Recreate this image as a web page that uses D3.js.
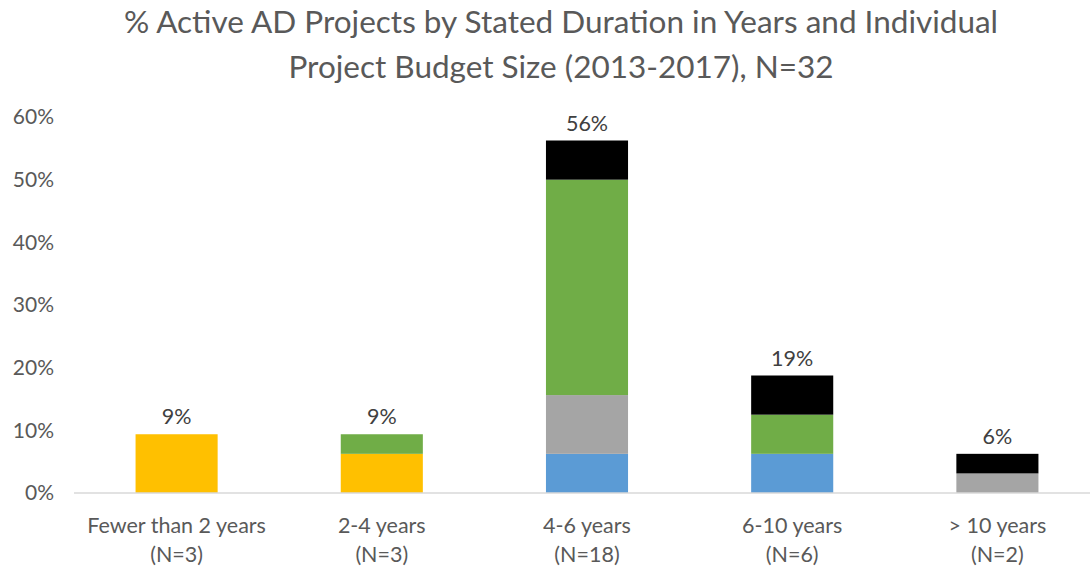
<!DOCTYPE html>
<html>
<head>
<meta charset="utf-8">
<script src="https://cdn.jsdelivr.net/npm/d3@7"></script>
<style>
  body { margin: 0; background: #fff; }
  svg { font-family: Lato, "Open Sans", sans-serif; }
</style>
</head>
<body>
<div id="chart"></div>
<script>
// categories and their sample sizes
const categories = ['Fewer than 2 years', '2-4 years', '4-6 years', '6-10 years', '> 10 years'];
const sampleLabels = ['(N=3)', '(N=3)', '(N=18)', '(N=6)', '(N=2)'];

// series values, % of all 32 projects (bottom to top)
const yellowVals = [9.375, 6.25, 0, 0, 0];
const blueVals = [0, 0, 6.25, 6.25, 0];
const grayVals = [0, 0, 9.375, 0, 3.125];
const greenVals = [0, 3.125, 34.375, 6.25, 0];
const blackVals = [0, 0, 6.25, 6.25, 3.125];

const yTicks = [0, 10, 20, 30, 40, 50, 60];
const titleLines = [
  '% Active AD Projects by Stated Duration in Years and Individual',
  'Project Budget Size (2013-2017), N=32'
];

const seriesKeys = ['yellow', 'blue', 'gray', 'green', 'black'];
const colors = { yellow: '#FFC000', blue: '#5B9BD5', gray: '#A5A5A5', green: '#70AD47', black: '#000000' };

const width = 1090;
const height = 570;

const table = categories.map((c, i) => ({
  cat: c,
  yellow: yellowVals[i],
  blue: blueVals[i],
  gray: grayVals[i],
  green: greenVals[i],
  black: blackVals[i]
}));

const svg = d3.select('#chart')
  .append('svg')
  .attr('width', width)
  .attr('height', height);

// title
svg.append('g')
  .selectAll('text')
  .data(titleLines)
  .enter()
  .append('text')
  .attr('x', 561)
  .attr('y', (d, i) => 33 + i * 45)
  .attr('text-anchor', 'middle')
  .style('font-size', '31.5px')
  .style('fill', '#595959')
  .text((d) => d);

const xScale = d3.scaleBand()
  .domain(categories)
  .range([74, 1100])
  .paddingInner(0.6)
  .paddingOuter(0.3);

const yScale = d3.scaleLinear()
  .domain([0, 60])
  .range([493, 117]);

// y axis labels (no line, no grid)
const yAxis = d3.axisLeft(yScale)
  .tickValues(yTicks)
  .tickSize(0)
  .tickPadding(0)
  .tickFormat((d) => d + '%');

const yAxisG = svg.append('g')
  .attr('transform', 'translate(54,0)')
  .call(yAxis);
yAxisG.select('.domain').remove();
yAxisG.selectAll('text')
  .style('font-size', '21px')
  .style('font-family', 'Lato, "Open Sans", sans-serif')
  .style('fill', '#595959');

// stacked bars
const stack = d3.stack().keys(seriesKeys);
const layers = stack(table);

svg.append('g')
  .selectAll('g')
  .data(layers)
  .enter()
  .append('g')
  .attr('fill', (d) => colors[d.key])
  .selectAll('rect')
  .data((d) => d)
  .enter()
  .append('rect')
  .attr('x', (d) => xScale(d.data.cat))
  .attr('width', xScale.bandwidth())
  .attr('y', (d) => yScale(d[1]))
  .attr('height', (d) => yScale(d[0]) - yScale(d[1]));

// x axis
const xAxis = d3.axisBottom(xScale).tickSize(0).tickFormat('');
const xAxisG = svg.append('g')
  .attr('transform', 'translate(0,' + yScale(0) + ')')
  .call(xAxis);
xAxisG.select('.domain')
  .attr('stroke', '#D9D9D9')
  .attr('stroke-width', 1.5)
  .attr('d', 'M74,0H1090');

// category labels
const catLabels = svg.append('g')
  .selectAll('text')
  .data(categories)
  .enter()
  .append('text')
  .attr('x', (d) => xScale(d) + xScale.bandwidth() / 2)
  .attr('text-anchor', 'middle')
  .style('font-size', '21.5px')
  .style('fill', '#595959');
catLabels.append('tspan')
  .attr('x', (d) => xScale(d) + xScale.bandwidth() / 2)
  .attr('y', 533)
  .text((d) => d);
catLabels.append('tspan')
  .attr('x', (d) => xScale(d) + xScale.bandwidth() / 2)
  .attr('y', 562)
  .text((d, i) => sampleLabels[i]);

// total labels
const totals = table.map((d) => d3.sum(seriesKeys, (k) => d[k]));
svg.append('g')
  .selectAll('text')
  .data(table)
  .enter()
  .append('text')
  .attr('x', (d) => xScale(d.cat) + xScale.bandwidth() / 2)
  .attr('y', (d, i) => yScale(totals[i]) - 10)
  .attr('text-anchor', 'middle')
  .style('font-size', '21.5px')
  .style('fill', '#404040')
  .text((d, i) => d3.format('.0f')(totals[i]) + '%');
</script>
</body>
</html>
